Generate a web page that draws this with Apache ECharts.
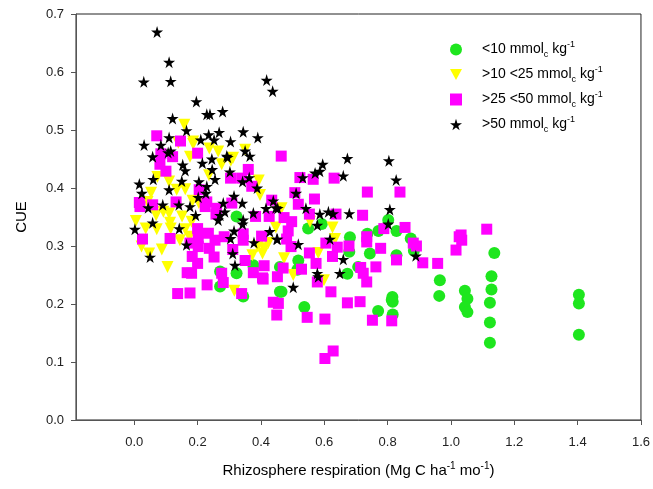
<!DOCTYPE html>
<html>
<head>
<meta charset="utf-8">
<script src="https://cdn.jsdelivr.net/npm/echarts@6/dist/echarts.min.js"></script>
<style>
  html, body { margin: 0; padding: 0; background: #fff; }
  #cue { width: 653px; height: 489px; }
</style>
</head>
<body>
<div id="cue"></div>
<script>
// [rhizosphere respiration, CUE]
const below10 = [
  [0.271,0.256],[0.323,0.253],[0.271,0.23],[0.376,0.267],[0.46,0.264],[0.46,0.221],[0.344,0.213],[0.323,0.351],
  [0.802,0.345],[0.828,0.326],[0.873,0.313],[0.883,0.292],[0.771,0.326],[0.736,0.321],[0.681,0.315],[0.679,0.29],
  [0.744,0.287],[0.592,0.338],[0.549,0.33],[0.518,0.275],[0.515,0.259],[0.707,0.264],[0.673,0.252],[0.828,0.284],
  [0.965,0.241],[0.963,0.214],[0.815,0.212],[0.465,0.221],[0.537,0.195],[0.77,0.188],[0.813,0.207],[0.816,0.204],
  [0.816,0.182],[1.137,0.288],[1.128,0.248],[1.128,0.225],[1.123,0.202],[1.123,0.168],[1.123,0.133],[1.044,0.223],
  [1.052,0.209],[1.044,0.195],[1.052,0.186],[1.404,0.216],[1.404,0.201],[1.404,0.147]
]
const from10to25 = [
  [0.158,0.509],[0.186,0.48],[0.237,0.468],[0.265,0.463],[0.176,0.454],[0.312,0.452],[0.35,0.466],[0.139,0.478],
  [0.186,0.476],[0.276,0.441],[0.305,0.447],[0.236,0.422],[0.073,0.419],[0.11,0.411],[0.053,0.392],[0.134,0.397],
  [0.161,0.398],[0.393,0.413],[0.397,0.388],[0.184,0.378],[0.204,0.374],[0.042,0.376],[0.092,0.359],[0.11,0.356],
  [0.069,0.353],[0.005,0.343],[0.113,0.34],[0.036,0.33],[0.071,0.329],[0.115,0.33],[0.151,0.351],[0.181,0.342],
  [0.161,0.329],[0.144,0.31],[0.023,0.299],[0.087,0.294],[0.047,0.287],[0.174,0.316],[0.39,0.299],[0.405,0.287],
  [0.373,0.284],[0.423,0.305],[0.105,0.264],[0.316,0.223],[0.465,0.365],[0.626,0.332],[0.447,0.332],[0.41,0.296],
  [0.473,0.279],[0.502,0.25],[0.599,0.241],[0.581,0.288],[0.634,0.312],[0.555,0.342]
]
const from25to50 = [
  [0.071,0.49],[0.146,0.481],[0.2,0.46],[0.084,0.459],[0.121,0.454],[0.464,0.455],[0.081,0.441],[0.1,0.429],
  [0.36,0.432],[0.304,0.417],[0.339,0.417],[0.371,0.403],[0.016,0.375],[0.018,0.368],[0.058,0.371],[0.132,0.376],
  [0.205,0.397],[0.224,0.368],[0.229,0.376],[0.26,0.365],[0.308,0.374],[0.258,0.355],[0.383,0.351],[0.426,0.351],
  [0.434,0.379],[0.026,0.312],[0.113,0.313],[0.2,0.33],[0.234,0.322],[0.255,0.31],[0.202,0.313],[0.176,0.305],
  [0.202,0.299],[0.237,0.296],[0.284,0.316],[0.344,0.321],[0.344,0.31],[0.402,0.317],[0.183,0.282],[0.2,0.27],
  [0.252,0.281],[0.311,0.294],[0.35,0.275],[0.41,0.266],[0.167,0.254],[0.181,0.253],[0.276,0.253],[0.376,0.254],
  [0.405,0.245],[0.281,0.237],[0.23,0.233],[0.137,0.218],[0.176,0.219],[0.339,0.218],[0.523,0.418],[0.565,0.415],
  [0.631,0.417],[0.736,0.393],[0.839,0.393],[0.507,0.392],[0.569,0.381],[0.518,0.372],[0.473,0.349],[0.497,0.342],
  [0.553,0.355],[0.637,0.355],[0.721,0.353],[0.486,0.326],[0.481,0.312],[0.495,0.299],[0.855,0.332],[0.788,0.33],
  [0.734,0.316],[0.734,0.307],[0.778,0.296],[0.678,0.3],[0.641,0.298],[0.605,0.305],[0.553,0.288],[0.626,0.282],
  [0.881,0.305],[0.891,0.3],[0.911,0.271],[0.958,0.27],[1.016,0.293],[1.026,0.316],[0.828,0.276],[0.763,0.264],
  [0.715,0.263],[0.574,0.27],[0.528,0.26],[0.47,0.262],[0.452,0.247],[0.407,0.243],[0.578,0.238],[0.723,0.253],
  [0.734,0.238],[0.621,0.221],[0.439,0.203],[0.455,0.201],[0.45,0.181],[0.546,0.177],[0.602,0.174],[0.673,0.202],
  [0.713,0.204],[0.752,0.172],[0.813,0.171],[0.628,0.119],[0.602,0.106],[1.113,0.329],[1.032,0.319],[1.034,0.31]
]
const above50 = [
  [0.072,0.669],[0.11,0.617],[0.03,0.583],[0.115,0.584],[0.418,0.586],[0.437,0.567],[0.196,0.549],[0.229,0.527],
  [0.239,0.527],[0.279,0.532],[0.121,0.52],[0.344,0.497],[0.39,0.487],[0.268,0.496],[0.235,0.492],[0.304,0.48],
  [0.165,0.499],[0.11,0.487],[0.031,0.474],[0.084,0.474],[0.21,0.483],[0.252,0.483],[0.058,0.454],[0.107,0.461],
  [0.115,0.464],[0.35,0.464],[0.365,0.455],[0.292,0.455],[0.153,0.44],[0.161,0.43],[0.215,0.443],[0.245,0.45],
  [0.295,0.453],[0.246,0.432],[0.302,0.428],[0.06,0.415],[0.016,0.407],[0.024,0.391],[0.15,0.412],[0.11,0.397],
  [0.204,0.411],[0.229,0.403],[0.255,0.415],[0.226,0.391],[0.202,0.384],[0.342,0.411],[0.363,0.418],[0.388,0.4],
  [0.315,0.386],[0.281,0.374],[0.341,0.374],[0.044,0.366],[0.09,0.371],[0.141,0.371],[0.176,0.368],[0.194,0.353],
  [0.271,0.353],[0.286,0.359],[0.265,0.345],[0.376,0.357],[0.344,0.345],[0.342,0.338],[0.416,0.365],[0.439,0.378],
  [0.453,0.365],[0.058,0.34],[0.002,0.329],[0.142,0.33],[0.315,0.326],[0.304,0.313],[0.428,0.325],[0.45,0.312],
  [0.378,0.306],[0.165,0.302],[0.311,0.287],[0.318,0.267],[0.05,0.281],[0.673,0.451],[0.804,0.447],[0.595,0.441],
  [0.571,0.426],[0.586,0.429],[0.532,0.418],[0.66,0.421],[0.827,0.414],[0.511,0.391],[0.447,0.366],[0.542,0.365],
  [0.586,0.355],[0.613,0.359],[0.628,0.356],[0.679,0.356],[0.807,0.363],[0.802,0.338],[0.578,0.336],[0.452,0.312],
  [0.618,0.312],[0.518,0.303],[0.889,0.283],[0.66,0.277],[0.578,0.253],[0.581,0.247],[0.649,0.253],[0.502,0.229]
]
const xTicks = [0, 0.2, 0.4, 0.6, 0.8, 1.0, 1.2, 1.4, 1.6]

const star = 'path://M50,0 L61,35 L98,35 L68,57 L79,91 L50,70 L21,91 L32,57 L2,35 L39,35 Z'
const downTri = 'path://M0,0 L100,0 L50,90 Z'

const chart = echarts.init(document.getElementById('cue'))
const font = 'Liberation Sans, Arial, sans-serif'
const supsub = {
  g: { width: 15 },
  n: { fontSize: 14, lineHeight: 19, color: '#000', fontFamily: font },
  sub: { fontSize: 9, lineHeight: 19, verticalAlign: 'bottom', color: '#000', fontFamily: font },
  sup: { fontSize: 9, lineHeight: 19, verticalAlign: 'top', color: '#000', fontFamily: font }
}
// legend labels, mmol_c kg^-1
const legendNames = {
  'lt10': '{g| }{n|<10 mmol}{sub|c}{n| kg}{sup|-1}',
  'lt25': '{g| }{n|>10 <25 mmol}{sub|c}{n| kg}{sup|-1}',
  'lt50': '{g| }{n|>25 <50 mmol}{sub|c}{n| kg}{sup|-1}',
  'gt50': '{g| }{n|>50 mmol}{sub|c}{n| kg}{sup|-1}'
}

const option = {
  animation: false,
  textStyle: { fontFamily: font },
  grid: {
    left: 76, right: 12, top: 14, bottom: 69,
    show: true, borderColor: '#222', borderWidth: 1
  },
  legend: {
    orient: 'vertical',
    left: 445, top: 35,
    itemWidth: 12, itemHeight: 12, itemGap: 6,
    formatter: name => legendNames[name],
    textStyle: { rich: supsub },
    data: [
      { name: 'lt10', icon: 'circle' },
      { name: 'lt25', icon: downTri },
      { name: 'lt50', icon: 'rect' },
      { name: 'gt50', icon: star }
    ]
  },
  xAxis: {
    type: 'value',
    min: -0.184, max: 1.6,
    splitLine: { show: false },
    axisLine: { onZero: false, lineStyle: { color: '#555' } },
    axisTick: { customValues: xTicks, length: 5, lineStyle: { color: '#555' } },
    axisLabel: {
      customValues: xTicks, margin: 16, fontSize: 13, color: '#222',
      formatter: v => v.toFixed(1)
    },
    name: '{n|Rhizosphere respiration (Mg C ha}{sup|-1}{n| mo}{sup|-1}{n|)}',
    nameLocation: 'middle', nameGap: 41,
    nameTextStyle: {
      rich: {
        n: { fontSize: 15, lineHeight: 20, color: '#000', fontFamily: font },
        sup: { fontSize: 10, lineHeight: 20, verticalAlign: 'top', color: '#000', fontFamily: font }
      }
    }
  },
  yAxis: {
    type: 'value',
    min: 0, max: 0.7, interval: 0.1,
    splitLine: { show: false },
    axisLine: { show: true, onZero: false, lineStyle: { color: '#555' } },
    axisTick: { show: true, length: 5, lineStyle: { color: '#555' } },
    axisLabel: { margin: 12, fontSize: 13, color: '#222', formatter: v => v.toFixed(1) },
    name: 'CUE', nameLocation: 'middle', nameGap: 47,
    nameTextStyle: { fontSize: 15, color: '#000' }
  },
  series: [
    {
      name: 'lt10', type: 'scatter', data: below10,
      symbol: 'circle', symbolSize: 12,
      itemStyle: { color: '#1ee61e', opacity: 1 }
    },
    {
      name: 'lt25', type: 'scatter', data: from10to25,
      symbol: downTri, symbolSize: 12,
      itemStyle: { color: '#ffff00', opacity: 1 }
    },
    {
      name: 'lt50', type: 'scatter', data: from25to50,
      symbol: 'rect', symbolSize: 11,
      itemStyle: { color: '#ff00ff', opacity: 1 }
    },
    {
      name: 'gt50', type: 'scatter', data: above50,
      symbol: star, symbolSize: 12,
      itemStyle: { color: '#000', opacity: 1 }
    }
  ]
}
chart.setOption(option)
</script>
</body>
</html>
